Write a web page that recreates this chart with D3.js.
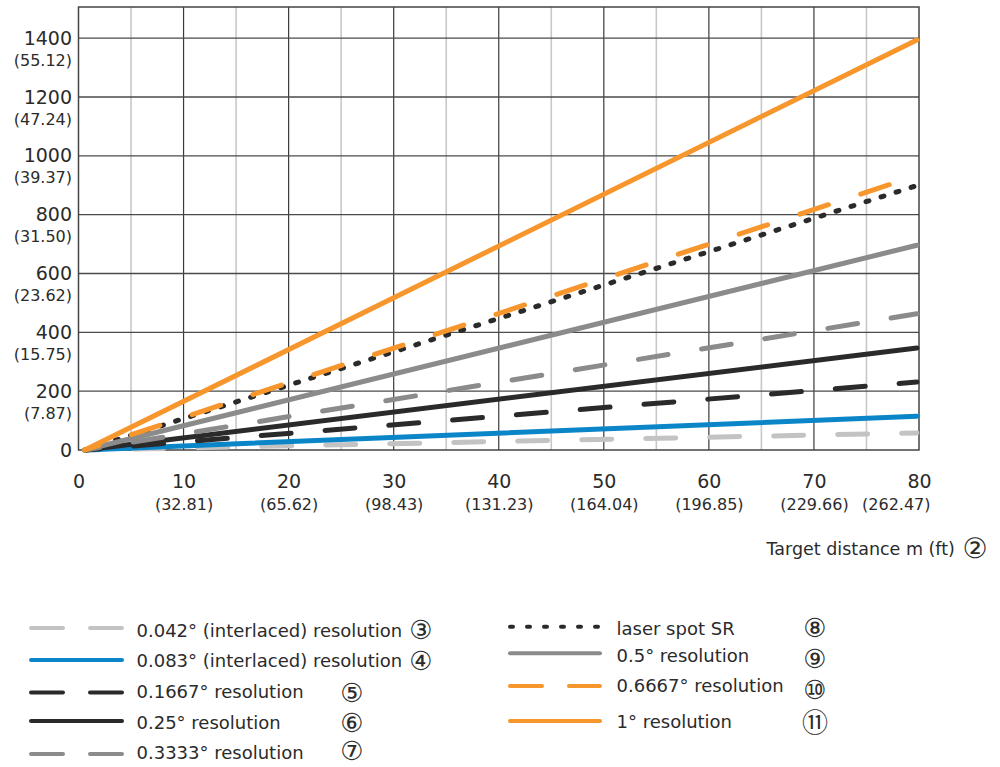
<!DOCTYPE html>
<html>
<head>
<meta charset="utf-8">
<script src="https://cdn.jsdelivr.net/npm/d3@7"></script>
<style>
  body { margin: 0; background: #fff; }
  text { font-family: "DejaVu Sans", sans-serif; fill: #2b2b2b; }
  .mark { font-family: "DejaVu Sans", "Noto Sans CJK JP", sans-serif; }
</style>
</head>
<body>
<svg id="chart" width="1000" height="767"></svg>
<script>
// distances (m) where each line starts and ends
const distances = [0.6, 79.8];

const seriesLabels = [
  '0.042° (interlaced) resolution',
  '0.083° (interlaced) resolution',
  '0.1667° resolution',
  '0.25° resolution',
  '0.3333° resolution',
  'laser spot SR',
  '0.5° resolution',
  '0.6667° resolution',
  '1° resolution'
];
const seriesMarks = ['③', '④', '⑤', '⑥', '⑦', '⑧', '⑨', '⑩', '⑪'];
// spot size in mm at each distance
const seriesValues = [
  [0, 58],
  [0, 115],
  [0, 231],
  [0, 347],
  [0, 463],
  [0, 899],
  [0, 696],
  [0, 933],
  [0, 1394]
];

const xTicks = [0, 10, 20, 30, 40, 50, 60, 70, 80];
const xTickFeet = ['', '(32.81)', '(65.62)', '(98.43)', '(131.23)', '(164.04)', '(196.85)', '(229.66)', '(262.47)'];
const yTicks = [0, 200, 400, 600, 800, 1000, 1200, 1400];
const yTickInches = ['', '(7.87)', '(15.75)', '(23.62)', '(31.50)', '(39.37)', '(47.24)', '(55.12)'];

// styles
const seriesColors = ['#c3c3c3', '#0a86c8', '#2a2a2a', '#2a2a2a', '#8b8b8b', '#2a2a2a', '#8b8b8b', '#f7962c', '#f7962c'];
const seriesDash = ['30,34', null, '30,34', null, '30,34', '3,12.75', null, '30,34', null];
const legendDash = ['32,27', null, '32,27', null, '32,27', '3,14', null, '32,27', null];

// legend layout: sample line y, text centre y, circled number y
const legendLineY = [628, 660, 692.5, 721, 754, 626.7, 653.3, 686, 721];
const legendTextY = [630, 660.5, 691.5, 722.5, 752.5, 628, 655, 685, 721.5];
const legendMarkY = [630, 660.7, 692.7, 723, 751, 628, 659, 690, 723];

const svg = d3.select('#chart');

const x = d3.scaleLinear().domain([0, 80]).range([78.5, 919]);
const y = d3.scaleLinear().domain([0, 1506]).range([450, 7]);

// grid
const grid = svg.append('g');
grid.selectAll('.minor')
  .data(d3.range(5, 80, 10))
  .join('line')
  .attr('x1', (d) => x(d)).attr('x2', (d) => x(d))
  .attr('y1', y.range()[1]).attr('y2', y.range()[0])
  .attr('stroke', '#c8c8c8')
  .attr('stroke-width', 1.6);

grid.selectAll('.major')
  .data(xTicks.slice(1, -1))
  .join('line')
  .attr('x1', (d) => x(d)).attr('x2', (d) => x(d))
  .attr('y1', y.range()[1]).attr('y2', y.range()[0])
  .attr('stroke', '#3a3a3a')
  .attr('stroke-width', 1.2);

grid.selectAll('.hline')
  .data(yTicks.slice(1))
  .join('line')
  .attr('x1', x.range()[0]).attr('x2', x.range()[1])
  .attr('y1', (d) => y(d)).attr('y2', (d) => y(d))
  .attr('stroke', '#4a4a4a')
  .attr('stroke-width', 1.3);

grid.append('rect')
  .attr('x', x.range()[0]).attr('y', y.range()[1])
  .attr('width', x.range()[1] - x.range()[0])
  .attr('height', y.range()[0] - y.range()[1])
  .attr('fill', 'none')
  .attr('stroke', '#444')
  .attr('stroke-width', 1.5);

// lines
const line = d3.line()
  .x((d, i) => x(distances[i]))
  .y((d) => y(d));

svg.append('g')
  .selectAll('path')
  .data(seriesValues)
  .join('path')
  .attr('d', (d) => line(d))
  .attr('fill', 'none')
  .attr('stroke', (d, i) => seriesColors[i])
  .attr('stroke-width', 5)
  .attr('stroke-linecap', 'round')
  .attr('stroke-dasharray', (d, i) => seriesDash[i])
  .attr('stroke-dashoffset', (d, i) => (seriesDash[i] ? 15 : null));

// x axis
const xAxis = svg.append('g')
  .attr('transform', `translate(0,${y(0)})`)
  .call(d3.axisBottom(x).tickValues(xTicks).tickSize(0).tickPadding(24.5).tickFormat(d3.format('d')));
xAxis.select('.domain').remove();
xAxis.selectAll('text')
  .attr('font-family', 'DejaVu Sans')
  .attr('font-size', 19)
  .attr('fill', '#2b2b2b');
xAxis.selectAll('.tick')
  .append('text')
  .attr('x', (d, i) => (i === xTicks.length - 1 ? 11 : 0))
  .attr('y', 59.5)
  .attr('text-anchor', (d, i) => (i === xTicks.length - 1 ? 'end' : 'middle'))
  .attr('font-size', 16)
  .text((d, i) => xTickFeet[i]);

// y axis
const yAxis = svg.append('g')
  .attr('transform', `translate(${x(0)},0)`)
  .call(d3.axisLeft(y).tickValues(yTicks).tickSize(0).tickPadding(6.5).tickFormat(d3.format('d')));
yAxis.select('.domain').remove();
yAxis.selectAll('text')
  .attr('font-family', 'DejaVu Sans')
  .attr('font-size', 19)
  .attr('fill', '#2b2b2b');
yAxis.selectAll('.tick')
  .append('text')
  .attr('x', -6.5)
  .attr('y', 27)
  .attr('text-anchor', 'end')
  .attr('font-size', 16)
  .text((d, i) => yTickInches[i]);

// axis title
svg.append('text')
  .attr('x', 766.5)
  .attr('y', 555)
  .attr('font-size', 17.5)
  .text('Target distance m (ft)');
svg.append('text')
  .attr('class', 'mark')
  .attr('x', 975)
  .attr('y', 548.5)
  .attr('text-anchor', 'middle')
  .attr('dominant-baseline', 'central')
  .attr('font-size', 28)
  .text('②');

// legend
const legendLayout = seriesLabels.map((label, i) => {
  const left = i < 5;
  return {
    i,
    x1: left ? 31 : 510,
    x2: left ? 122 : 600,
    tx: left ? 136.5 : 616.5,
    mx: left ? (i < 2 ? 421 : 352) : 815
  };
});

const legend = svg.append('g')
  .selectAll('g')
  .data(legendLayout)
  .join('g');

legend.append('line')
  .attr('x1', (d) => d.x1).attr('x2', (d) => d.x2)
  .attr('y1', (d) => legendLineY[d.i]).attr('y2', (d) => legendLineY[d.i])
  .attr('stroke', (d) => seriesColors[d.i])
  .attr('stroke-width', 4)
  .attr('stroke-linecap', 'round')
  .attr('stroke-dasharray', (d) => legendDash[d.i]);

legend.append('text')
  .attr('x', (d) => d.tx)
  .attr('y', (d) => legendTextY[d.i])
  .attr('dominant-baseline', 'central')
  .attr('font-size', 18)
  .text((d) => seriesLabels[d.i]);

legend.append('text')
  .attr('class', 'mark')
  .attr('x', (d) => d.mx)
  .attr('y', (d) => legendMarkY[d.i])
  .attr('text-anchor', 'middle')
  .attr('dominant-baseline', 'central')
  .attr('font-size', 26)
  .text((d) => seriesMarks[d.i]);
</script>
</body>
</html>
